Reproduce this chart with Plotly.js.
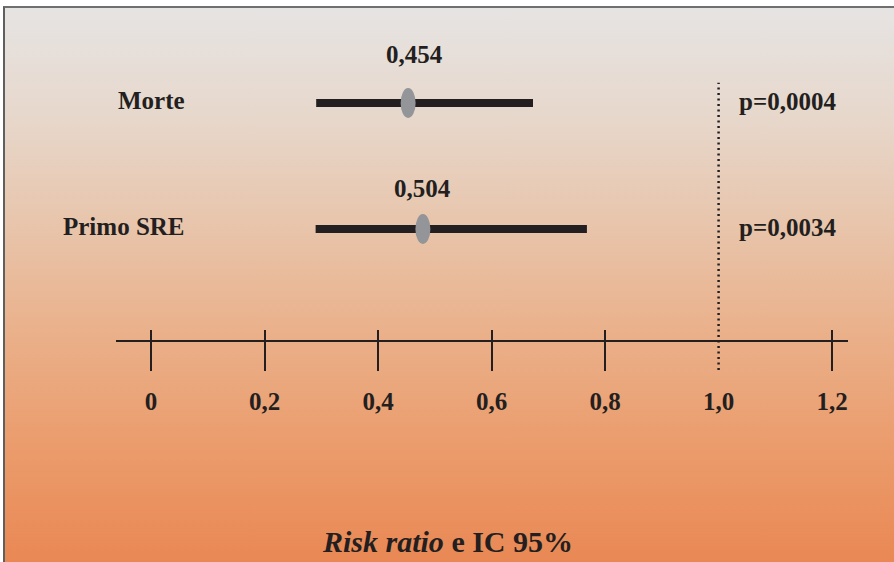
<!DOCTYPE html>
<html>
<head>
<meta charset="utf-8">
<script src="https://cdn.plot.ly/plotly-3.0.1.min.js"></script>
<style>
  html, body { margin: 0; padding: 0; background: #ffffff; }
  #wrap { position: relative; width: 894px; height: 562px; overflow: hidden; }
  #bg {
    position: absolute; left: 3px; top: 6px; width: 891px; height: 556px;
    border-top: 2px solid #6f6f6f; border-left: 2px solid #5f5f5f;
    box-sizing: border-box;
    background: linear-gradient(to bottom, #e6e4e3 0%, #e7d7cb 20%, #e8c4aa 40%, #eaaf88 60%, #eb9b6b 80%, #e98854 100%);
  }
  #plot { position: absolute; left: 0; top: 0; width: 894px; height: 562px; }
</style>
</head>
<body>
<div id="wrap"><div id="bg"></div><div id="plot"></div></div>
<script>
// ---- data ----
const categories = ["Morte", "Primo SRE"];
const rowPos = [1, 0];
const pointEstimate = [0.453, 0.479];
const ciLower = [0.291, 0.290];
const ciUpper = [0.673, 0.768];
const valueLabels = ["0,454", "0,504"];
const pValues = ["p=0,0004", "p=0,0034"];
const tickVals = [0, 0.2, 0.4, 0.6, 0.8, 1.0, 1.2];
const tickText = ["0", "0,2", "0,4", "0,6", "0,8", "1,0", "1,2"];
const markedTicks = [0, 0.2, 0.4, 0.6, 0.8, 1.2];
const refLine = 1.0;
const axisTitle = "<i>Risk ratio</i> e IC 95%";

// ---- styles ----
const ink = "#231f20";
const serif = "Liberation Serif, Times New Roman, serif";
const fontBold = { family: serif, size: 25, color: ink, weight: "bold" };

const traces = [];
categories.forEach((c, i) => {
  traces.push({
    type: "scatter", mode: "lines",
    x: [ciLower[i], ciUpper[i]], y: [rowPos[i], rowPos[i]],
    line: { color: ink, width: 8 },
    hoverinfo: "skip", showlegend: false, xaxis: "x", yaxis: "y"
  });
});
// dummy traces so overlay axes are drawn
traces.push({ type: "scatter", mode: "markers", x: [null], y: [null], xaxis: "x2", yaxis: "y", showlegend: false, hoverinfo: "skip" });
traces.push({ type: "scatter", mode: "markers", x: [null], y: [null], xaxis: "x3", yaxis: "y", showlegend: false, hoverinfo: "skip" });

const plotTop = 10, plotBottom = 372, axisPixel = 341;
const axisPos = (plotBottom - axisPixel) / (plotBottom - plotTop);
const xRange = [-0.0617, 1.228];

const shapes = [];
shapes.push({
  type: "line", xref: "x", yref: "y", x0: refLine, x1: refLine, y0: -1.12, y1: 1.16,
  line: { color: ink, width: 2.5, dash: "2px,3.5px" }, layer: "below"
});
categories.forEach((c, i) => {
  shapes.push({
    type: "circle", xref: "x", yref: "y",
    xsizemode: "pixel", ysizemode: "pixel",
    xanchor: pointEstimate[i], yanchor: rowPos[i],
    x0: -7.5, x1: 7.5, y0: -15, y1: 15,
    fillcolor: "#939598", line: { width: 0 }, layer: "above"
  });
});

const annotations = [];
const valShift = [48, 40];
categories.forEach((c, i) => {
  annotations.push({
    xref: "paper", yref: "y", x: (187 - 116) / 732, y: rowPos[i], xanchor: "right", yanchor: "middle",
    text: c, showarrow: false, font: fontBold, yshift: 2
  });
  annotations.push({
    xref: "x", yref: "y", x: pointEstimate[i], y: rowPos[i], xanchor: "center", yanchor: "middle",
    text: valueLabels[i], showarrow: false, font: fontBold, yshift: valShift[i], xshift: i === 0 ? 6 : 0
  });
  annotations.push({
    xref: "paper", yref: "y", x: (737 - 116) / 732, y: rowPos[i], xanchor: "left", yanchor: "middle",
    text: pValues[i], showarrow: false, font: fontBold, yshift: 1
  });
});
annotations.push({
  xref: "paper", yref: "paper", x: (447 - 116) / 732, y: (plotBottom - 541) / (plotBottom - plotTop),
  xanchor: "center", yanchor: "middle", text: axisTitle, showarrow: false,
  font: { family: serif, size: 30, color: ink, weight: "bold" }
});

const baseX = {
  range: xRange, showgrid: false, zeroline: false, anchor: "free", position: axisPos, side: "bottom",
  fixedrange: true
};

const layout = {
  width: 894, height: 562,
  margin: { l: 116, r: 46, t: plotTop, b: 562 - plotBottom, pad: 0 },
  paper_bgcolor: "rgba(0,0,0,0)", plot_bgcolor: "rgba(0,0,0,0)",
  showlegend: false,
  xaxis: Object.assign({}, baseX, {
    showline: true, linecolor: ink, linewidth: 2,
    tickmode: "array", tickvals: tickVals, ticktext: tickText, ticks: "",
    tickfont: fontBold, ticklabelstandoff: 38
  }),
  xaxis2: Object.assign({}, baseX, {
    overlaying: "x", showline: false, tickmode: "array", tickvals: markedTicks,
    ticks: "outside", ticklen: 29, tickwidth: 2, tickcolor: ink, showticklabels: false
  }),
  xaxis3: Object.assign({}, baseX, {
    overlaying: "x", showline: false, tickmode: "array", tickvals: markedTicks,
    ticks: "inside", ticklen: 11, tickwidth: 2, tickcolor: ink, showticklabels: false
  }),
  yaxis: { range: [-1.135, 1.738], visible: false, fixedrange: true },
  shapes: shapes, annotations: annotations
};

Plotly.newPlot("plot", traces, layout, { displayModeBar: false, staticPlot: true });
</script>
</body>
</html>
